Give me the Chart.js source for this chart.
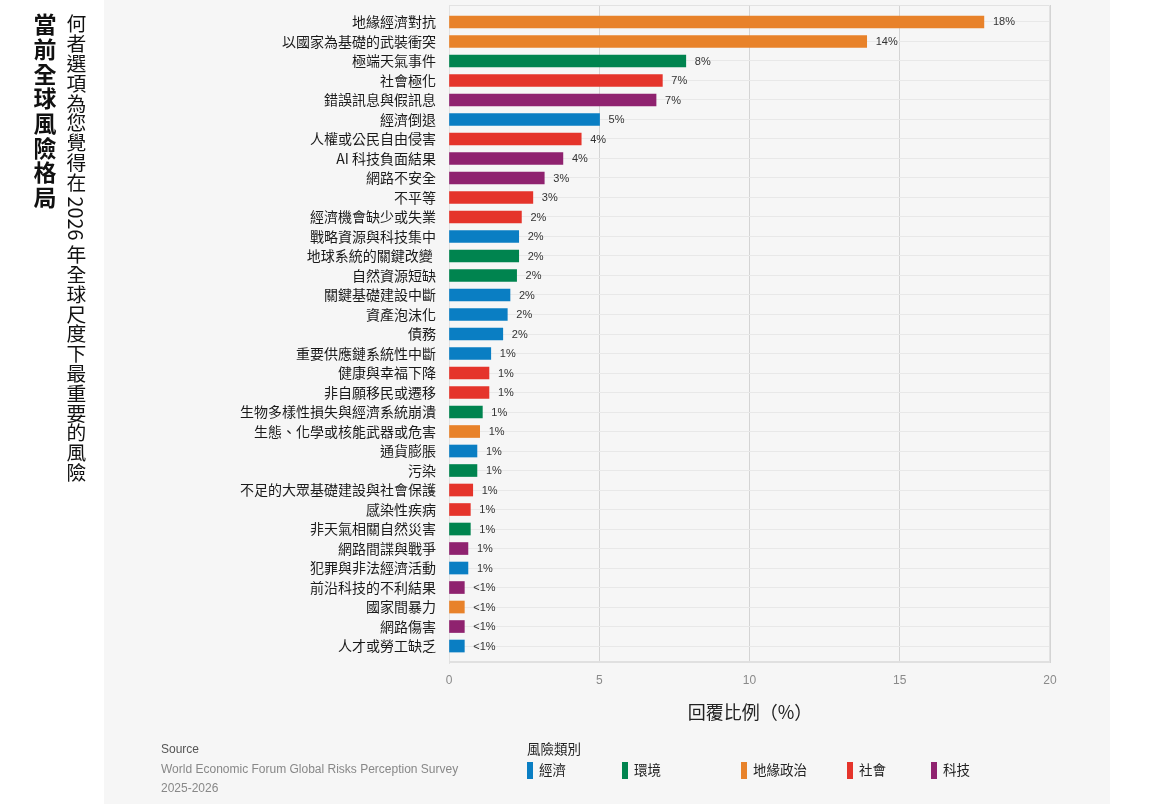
<!DOCTYPE html>
<html>
<head>
<meta charset="utf-8">
<script src="https://cdn.jsdelivr.net/npm/chart.js@4.4.1/dist/chart.umd.min.js"></script>
<style>
  html, body { margin:0; padding:0; background:#ffffff; }
  body { width:1152px; height:804px; position:relative; overflow:hidden;
         font-family:"Liberation Sans","Noto Sans CJK TC",sans-serif; }
  #panel { position:absolute; left:104px; top:0; width:1006px; height:804px; background:#f6f6f6; }
  #chart { position:absolute; left:0; top:0; }
  .vtitle { position:absolute; writing-mode:vertical-rl; text-orientation:mixed;
            font-family:"Noto Sans CJK TC","Liberation Sans",sans-serif; color:#111; white-space:nowrap; }
  #title { left:30px; top:13px; font-size:23px; font-weight:700; line-height:30px; letter-spacing:1.7px; }
  #subtitle { left:63px; top:14px; font-size:19.8px; font-weight:400; line-height:26px; }
  #xtitle { position:absolute; left:650px; width:200px; text-align:center; top:698px;
            font-family:"Noto Sans CJK TC",sans-serif; font-size:18px; color:#222; }
  #source { position:absolute; left:161px; top:740px; font-size:12px; line-height:19.5px; color:#888; }
  #source .h { color:#555; }
  #legend { position:absolute; left:527px; top:738px; font-family:"Noto Sans CJK TC",sans-serif; font-size:13.5px; color:#222; }
  #legend .lt { position:absolute; left:0; top:0; white-space:nowrap; }
  #legend .it { position:absolute; top:21px; white-space:nowrap; }
  #legend .sw { display:inline-block; width:6px; height:17px; vertical-align:middle; margin-right:6px; position:relative; top:-1px; }
</style>
</head>
<body>
<div id="panel"></div>
<canvas id="chart" width="1152" height="804"></canvas>
<div id="title" class="vtitle">當前全球風險格局</div>
<div id="subtitle" class="vtitle">何者選項為您覺得在 2026 年全球尺度下最重要的風險</div>
<div id="xtitle">回覆比例（%）</div>
<div id="source"><span class="h">Source</span><br>World Economic Forum Global Risks Perception Survey<br>2025-2026</div>
<div id="legend"></div>
<script>
// ---- data ----
const riskLabels = [
  "地緣經濟對抗","以國家為基礎的武裝衝突","極端天氣事件","社會極化","錯誤訊息與假訊息",
  "經濟倒退","人權或公民自由侵害","AI 科技負面結果","網路不安全","不平等",
  "經濟機會缺少或失業","戰略資源與科技集中","地球系統的關鍵改變 ","自然資源短缺","關鍵基礎建設中斷",
  "資產泡沫化","債務","重要供應鏈系統性中斷","健康與幸福下降","非自願移民或遷移",
  "生物多樣性損失與經濟系統崩潰","生態、化學或核能武器或危害","通貨膨脹","污染","不足的大眾基礎建設與社會保護",
  "感染性疾病","非天氣相關自然災害","網路間諜與戰爭","犯罪與非法經濟活動","前沿科技的不利結果",
  "國家間暴力","網路傷害","人才或勞工缺乏"
];
const riskValues = [
  17.8, 13.9, 7.88, 7.1, 6.89,
  5.01, 4.4, 3.79, 3.17, 2.79,
  2.41, 2.32, 2.32, 2.25, 2.03,
  1.94, 1.79, 1.39, 1.33, 1.33,
  1.11, 1.02, 0.93, 0.93, 0.79,
  0.71, 0.71, 0.63, 0.63, 0.51,
  0.51, 0.51, 0.51
];
const valueLabels = [
  "18%","14%","8%","7%","7%","5%","4%","4%","3%","3%",
  "2%","2%","2%","2%","2%","2%","2%","1%","1%","1%",
  "1%","1%","1%","1%","1%","1%","1%","1%","1%","<1%",
  "<1%","<1%","<1%"
];
const riskCategory = [
  "地緣政治","地緣政治","環境","社會","科技",
  "經濟","社會","科技","科技","社會",
  "社會","經濟","環境","環境","經濟",
  "經濟","經濟","經濟","社會","社會",
  "環境","地緣政治","經濟","環境","社會",
  "社會","環境","科技","經濟","科技",
  "地緣政治","科技","經濟"
];
const legendCategories = ["經濟","環境","地緣政治","社會","科技"];
const xTicks = [0, 5, 10, 15, 20];

// ---- styles ----
const categoryColors = {
  "經濟":"#0a7ec3", "環境":"#00844f", "地緣政治":"#e8822a", "社會":"#e5342b", "科技":"#8f226f"
};
const legendX = [0, 95, 214, 320, 404];

// legend (HTML)
const lg = document.getElementById('legend');
const lt = document.createElement('div'); lt.className = 'lt'; lt.textContent = '風險類別'; lg.appendChild(lt);
legendCategories.forEach((c, i) => {
  const d = document.createElement('div'); d.className = 'it'; d.style.left = legendX[i] + 'px';
  const s = document.createElement('span'); s.className = 'sw'; s.style.background = categoryColors[c];
  d.appendChild(s); d.appendChild(document.createTextNode(c)); lg.appendChild(d);
});

const FONT_FAMILY = '"Liberation Sans","Noto Sans CJK TC",sans-serif';

const valueLabelPlugin = {
  id: 'valueLabels',
  afterDatasetsDraw(chart) {
    const ctx = chart.ctx;
    const meta = chart.getDatasetMeta(0);
    ctx.save();
    ctx.font = '11px ' + FONT_FAMILY;
    ctx.fillStyle = '#333';
    ctx.textBaseline = 'middle';
    ctx.textAlign = 'left';
    meta.data.forEach((bar, i) => {
      ctx.fillText(valueLabels[i], bar.x + 9, bar.y + 0.5);
    });
    ctx.restore();
  }
};

const borderPlugin = {
  id: 'plotBorder',
  afterDraw(chart) {
    const a = chart.chartArea, ctx = chart.ctx;
    ctx.save();
    ctx.strokeStyle = '#e2e2e2';
    ctx.lineWidth = 1;
    ctx.beginPath();
    ctx.moveTo(a.left + 0.5, a.top + 0.5);
    ctx.lineTo(a.right - 0.5, a.top + 0.5);
    ctx.lineTo(a.right - 0.5, a.bottom);
    ctx.stroke();
    ctx.strokeStyle = '#e0e0e0';
    ctx.lineWidth = 2;
    ctx.beginPath();
    ctx.moveTo(a.left, a.bottom - 1);
    ctx.lineTo(a.right, a.bottom - 1);
    ctx.stroke();
    ctx.restore();
  }
};

new Chart(document.getElementById('chart'), {
  type: 'bar',
  data: {
    datasets: [{
      data: riskValues.map((v, i) => ({ x: v, y: i })),
      backgroundColor: riskCategory.map(c => categoryColors[c]),
      borderWidth: 0,
      barThickness: 12
    }]
  },
  options: {
    indexAxis: 'y',
    responsive: false,
    animation: false,
    layout: { padding: { left: 0, top: 5, right: 102, bottom: 0 } },
    plugins: { legend: { display: false }, tooltip: { enabled: false } },
    scales: {
      x: {
        type: 'linear', min: 0, max: 20,
        afterFit(s) { s.height = 141; },
        afterBuildTicks(s) { s.ticks = xTicks.map(v => ({ value: v })); },
        grid: { color: '#d4d4d4', lineWidth: 1, drawTicks: false },
        border: { display: false },
        ticks: { padding: 10, color: '#8a8a8a', font: { family: FONT_FAMILY, size: 12 } }
      },
      y: {
        type: 'linear', reverse: true, min: -0.87, max: 32.87,
        offset: false,
        afterFit(s) { s.width = 449; s.paddingTop = 0; s.paddingBottom = 0; },
        afterBuildTicks(s) { s.ticks = riskLabels.map((_, i) => ({ value: i })); },
        grid: { color: '#e8e8e8', lineWidth: 1, drawTicks: false, offset: false },
        border: { display: true, color: '#e2e2e2' },
        ticks: {
          autoSkip: false, padding: 13, color: '#1a1a1a',
          font: { family: '"Noto Sans CJK TC","Liberation Sans",sans-serif', size: 14 },
          callback: (v) => riskLabels[v] !== undefined ? riskLabels[v] : ''
        }
      }
    }
  },
  plugins: [valueLabelPlugin, borderPlugin]
});
</script>
</body>
</html>
